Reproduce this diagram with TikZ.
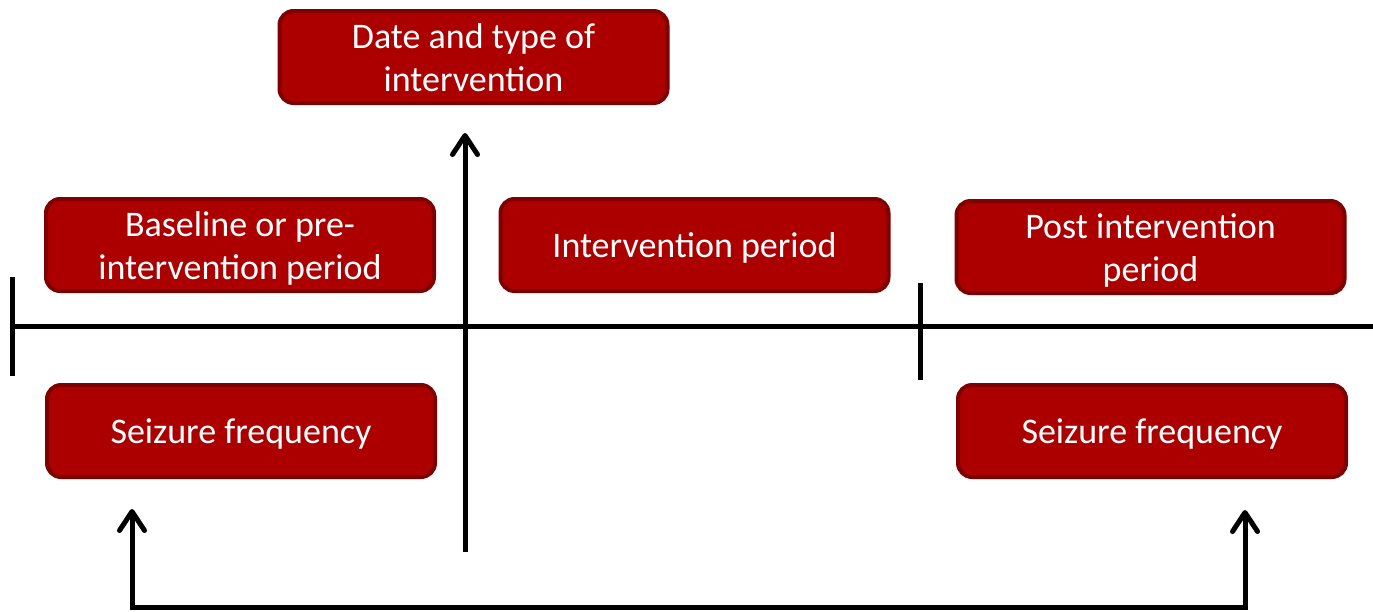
\documentclass[tikz,border=0pt]{standalone}
\usepackage{fontspec}
\setmainfont{Carlito}
\usetikzlibrary{arrows.meta}
\definecolor{boxfill}{HTML}{AC0000}
\definecolor{boxedge}{HTML}{7E0000}
\newcommand{\boxtext}[1]{\raisebox{-4pt}[\height][\depth]{\begin{tabular}{@{}c@{}}#1\end{tabular}}}
\begin{document}
\begin{tikzpicture}[x=1pt,y=-1pt,
  redbox/.style={draw=boxedge,fill=boxfill,line width=4pt,rounded corners=14pt,
    minimum width=388pt,minimum height=92pt,text=white,
    font=\fontsize{36}{43}\selectfont,inner sep=0pt},
  axis/.style={line width=5pt,black},
  arr/.style={line width=5pt,black,-{Straight Barb[round,length=19pt,width=25pt]}}]
\useasboundingbox (0,0) rectangle (1373,611);
\node[redbox] (date) at (473.5,57) {\boxtext{Date and type of\\intervention}};
\node[redbox] (base) at (240,245) {\boxtext{Baseline or pre-\\intervention period}};
\node[redbox] (inter) at (694.5,245) {\boxtext{Intervention period}};
\node[redbox] (post) at (1150.5,247) {\boxtext{Post intervention\\period}};
\node[redbox] (sz1) at (241,431) {\boxtext{Seizure frequency}};
\node[redbox] (sz2) at (1152,431) {\boxtext{Seizure frequency}};
% timeline
\coordinate (tl) at (12,326);
\coordinate (tr) at (1373,326);
\draw[axis] (tl) -- (tr);
\coordinate (t1a) at (12,277); \coordinate (t1b) at (12,376);
\draw[axis] (t1a) -- (t1b);
\coordinate (t2a) at (920,283); \coordinate (t2b) at (920,380);
\draw[axis] (t2a) -- (t2b);
% vertical intervention arrow
\coordinate (vbot) at (465,552);
\coordinate (vtop) at (465,133);
\draw[arr] (vbot) -- (vtop);
% bottom connector
\coordinate (lt) at (132,509);
\coordinate (rt) at (1245,510);
\draw[arr] (1245,607) -- (132,607) -- (lt);
\draw[arr] (132,607) -- (1245,607) -- (rt);
\end{tikzpicture}
\end{document}
